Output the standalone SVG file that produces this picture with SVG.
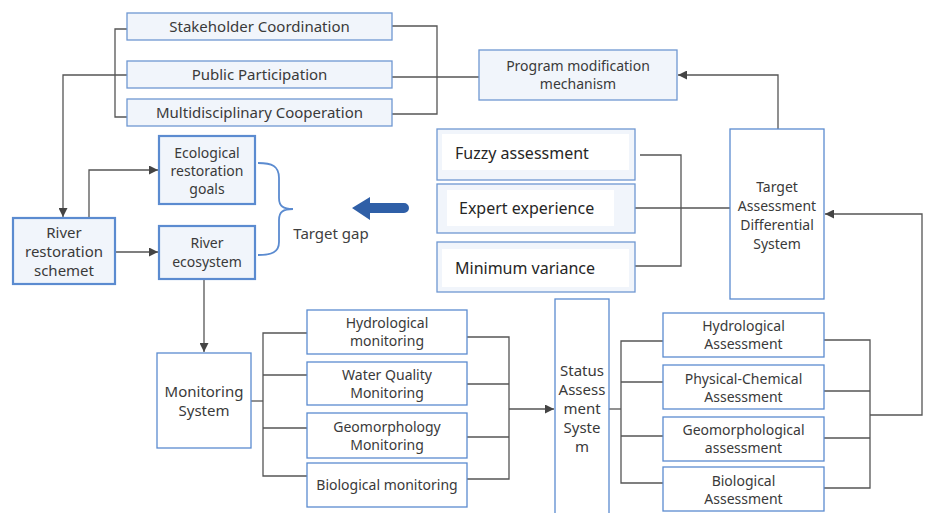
<svg xmlns="http://www.w3.org/2000/svg" width="928" height="513" viewBox="0 0 928 513">
<defs>
<style>
.box{fill:#f1f5fb;stroke:#6f97d2;stroke-width:1.3}
.wbox{fill:#ffffff;stroke:#5b8bd0;stroke-width:1.3}
.bbox{fill:#f1f5fb;stroke:#5b8bd0;stroke-width:2.2}
.inner{fill:#ffffff;stroke:none}
.t{font-family:"Noto Sans","Open Sans",sans-serif;font-size:14px;fill:#3a3a3a;text-anchor:middle}
.tl{font-family:"Noto Sans","Open Sans",sans-serif;font-size:16px;fill:#262626}
.c{fill:none;stroke:#555;stroke-width:1.3}
</style>
<marker id="ah" viewBox="0 0 10 10" refX="10" refY="5" markerWidth="9" markerHeight="9" markerUnits="userSpaceOnUse" orient="auto">
<path d="M0,0 L10,5 L0,10 z" fill="#444"/>
</marker>
</defs>
<rect width="928" height="513" fill="#ffffff"/>

<g id="connectors">
<path class="c" d="M127,29 H115 V117 H127"/>
<path class="c" d="M392,26 H437 V114 H392"/>
<path class="c" d="M392,77 H479"/>
<path class="c" d="M127,75 H63 V217" marker-end="url(#ah)"/>
<path class="c" d="M778,129 V75 H678" marker-end="url(#ah)"/>
<path class="c" d="M640,155 H681 V266 H635"/>
<path class="c" d="M635,208 H730"/>
<path class="c" d="M89,218 V170 H158" marker-end="url(#ah)"/>
<path class="c" d="M115,252 H158" marker-end="url(#ah)"/>
<path class="c" d="M204,279 V352" marker-end="url(#ah)"/>
<path class="c" d="M251,401 H263"/>
<path class="c" d="M307,333 H263 V476 H307"/>
<path class="c" d="M263,375 H307"/>
<path class="c" d="M263,428 H307"/>
<path class="c" d="M467,337 H509 V479 H467"/>
<path class="c" d="M467,384 H509"/>
<path class="c" d="M467,437 H509"/>
<path class="c" d="M509,409 H554" marker-end="url(#ah)"/>
<path class="c" d="M609,409 H621"/>
<path class="c" d="M663,341 H621 V483 H663"/>
<path class="c" d="M621,382 H663"/>
<path class="c" d="M621,436 H663"/>
<path class="c" d="M824,340 H870 V488 H824"/>
<path class="c" d="M824,391 H870"/>
<path class="c" d="M824,438 H870"/>
<path class="c" d="M870,415 H922 V214 H825" marker-end="url(#ah)"/>
</g>

<g id="stakeholder">
<rect class="box" x="127" y="13" width="265" height="27"/>
<text class="t" x="259.5" y="32" style="font-size:15px">Stakeholder Coordination</text>
</g>
<g id="public">
<rect class="box" x="127" y="61" width="265" height="27"/>
<text class="t" x="259.5" y="80" style="font-size:15px">Public Participation</text>
</g>
<g id="multi">
<rect class="box" x="127" y="99" width="265" height="27"/>
<text class="t" x="259.5" y="118" style="font-size:15px">Multidisciplinary Cooperation</text>
</g>
<g id="program">
<rect class="box" x="479" y="50" width="198" height="50"/>
<text class="t" x="578" y="71">Program modification</text>
<text class="t" x="578" y="89">mechanism</text>
</g>

<g id="fuzzy">
<rect class="box" x="437" y="129" width="198" height="51"/>
<rect class="inner" x="442" y="134" width="187" height="36"/>
<text class="tl" x="455" y="159">Fuzzy assessment</text>
</g>
<g id="expert">
<rect class="box" x="437" y="184" width="198" height="49"/>
<rect class="inner" x="447" y="190" width="167" height="36"/>
<text class="tl" x="459" y="214">Expert experience</text>
</g>
<g id="minimum">
<rect class="box" x="437" y="242" width="198" height="50"/>
<rect class="inner" x="442" y="249" width="187" height="38"/>
<text class="tl" x="455" y="274">Minimum variance</text>
</g>

<g id="target">
<rect class="wbox" x="730" y="129" width="94" height="170"/>
<text class="t" x="777" y="192">Target</text>
<text class="t" x="777" y="211">Assessment</text>
<text class="t" x="777" y="230">Differential</text>
<text class="t" x="777" y="249">System</text>
</g>

<g id="river-scheme">
<rect class="bbox" x="13" y="218" width="102" height="66"/>
<text class="t" x="64" y="238" style="font-size:15px">River</text>
<text class="t" x="64" y="257" style="font-size:15px">restoration</text>
<text class="t" x="64" y="276" style="font-size:15px">schemet</text>
</g>
<g id="eco-goals">
<rect class="bbox" x="159" y="136" width="96" height="68"/>
<text class="t" x="207" y="158">Ecological</text>
<text class="t" x="207" y="176">restoration</text>
<text class="t" x="207" y="194">goals</text>
</g>
<g id="river-eco">
<rect class="bbox" x="159" y="226" width="96" height="53"/>
<text class="t" x="207" y="248">River</text>
<text class="t" x="207" y="267">ecosystem</text>
</g>

<g id="target-gap">
<path d="M258,163 C272,163 279,166 279,178 V198 C279,206 283,209 293,209 C283,209 279,212 279,220 V242 C279,252 272,255 258,255" fill="none" stroke="#5b8bd0" stroke-width="1.8"/>
<text class="t" x="331" y="239" style="font-size:15px;fill:#404040">Target gap</text>
</g>
<g id="blue-arrow">
<path d="M352,208 L370,197 V203 H404 A5,5 0 0 1 404,213 H370 V220 Z" fill="#2f5fa7"/>
</g>

<g id="monitoring">
<rect class="wbox" x="157" y="353" width="94" height="95"/>
<text class="t" x="204" y="397" style="font-size:15px">Monitoring</text>
<text class="t" x="204" y="416" style="font-size:15px">System</text>
</g>
<g id="hydro-mon">
<rect class="wbox" x="307" y="310" width="160" height="44"/>
<text class="t" x="387" y="328">Hydrological</text>
<text class="t" x="387" y="346">monitoring</text>
</g>
<g id="water-mon">
<rect class="wbox" x="307" y="362" width="160" height="43"/>
<text class="t" x="387" y="380">Water Quality</text>
<text class="t" x="387" y="398">Monitoring</text>
</g>
<g id="geo-mon">
<rect class="wbox" x="307" y="413" width="160" height="45"/>
<text class="t" x="387" y="432">Geomorphology</text>
<text class="t" x="387" y="450">Monitoring</text>
</g>
<g id="bio-mon">
<rect class="wbox" x="307" y="463" width="160" height="44"/>
<text class="t" x="387" y="490">Biological monitoring</text>
</g>

<g id="status">
<rect class="wbox" x="555" y="299" width="54" height="220"/>
<text class="t" x="582" y="376" style="font-size:15px">Status</text>
<text class="t" x="582" y="395" style="font-size:15px">Assess</text>
<text class="t" x="582" y="414" style="font-size:15px">ment</text>
<text class="t" x="582" y="433" style="font-size:15px">Syste</text>
<text class="t" x="582" y="452" style="font-size:15px">m</text>
</g>

<g id="hydro-ass">
<rect class="wbox" x="663" y="313" width="161" height="44"/>
<text class="t" x="743.5" y="331">Hydrological</text>
<text class="t" x="743.5" y="349">Assessment</text>
</g>
<g id="phys-ass">
<rect class="wbox" x="663" y="365" width="161" height="44"/>
<text class="t" x="743.5" y="384">Physical-Chemical</text>
<text class="t" x="743.5" y="402">Assessment</text>
</g>
<g id="geo-ass">
<rect class="wbox" x="663" y="417" width="161" height="44"/>
<text class="t" x="743.5" y="435">Geomorphological</text>
<text class="t" x="743.5" y="453">assessment</text>
</g>
<g id="bio-ass">
<rect class="wbox" x="663" y="467" width="161" height="44"/>
<text class="t" x="743.5" y="486">Biological</text>
<text class="t" x="743.5" y="504">Assessment</text>
</g>
</svg>
